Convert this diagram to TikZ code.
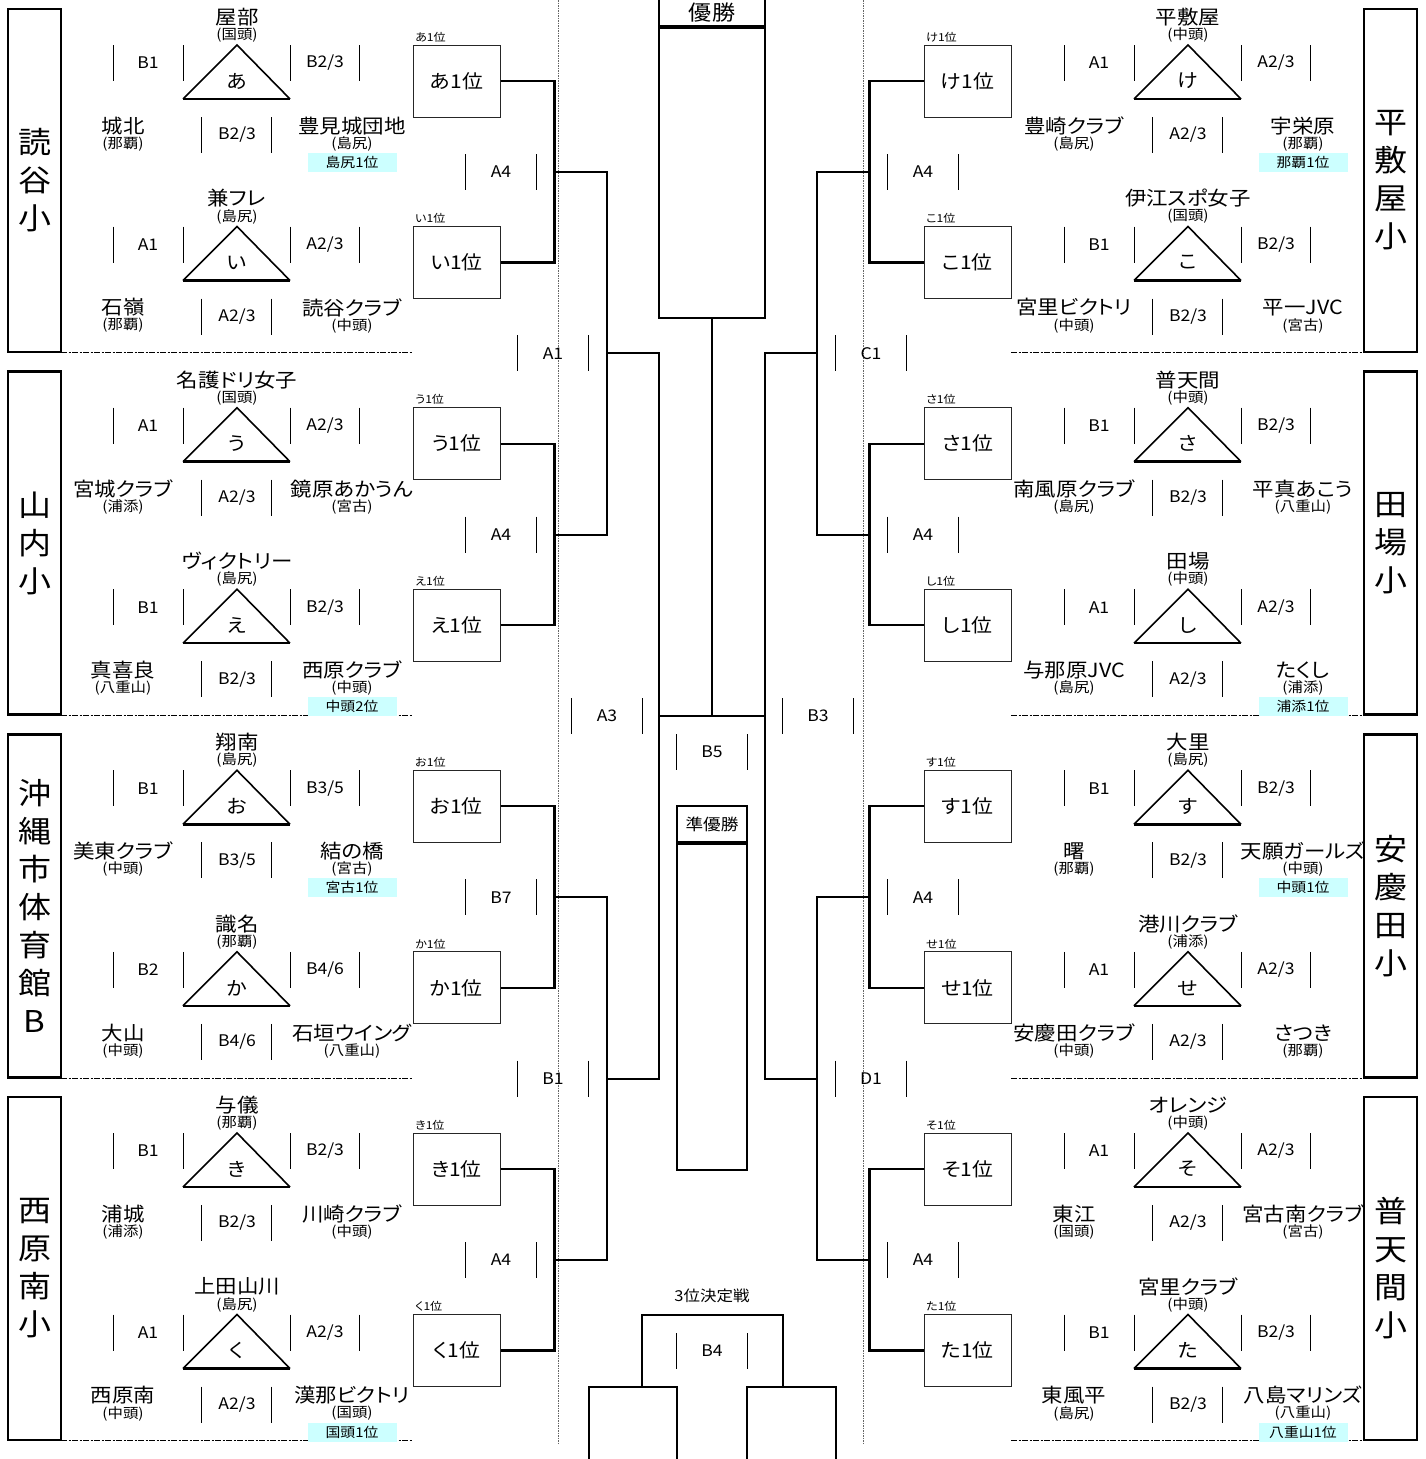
\documentclass[tikz,border=0pt]{standalone}
\usepackage{fontspec}
\setmainfont{Noto Sans CJK JP}[FakeStretch=1.1,RawFeature=+palt]
\definecolor{hlc}{RGB}{204,255,255}
\tikzset{
  nm/.style={inner sep=0pt,font=\fontsize{19.5}{20}\selectfont},
  sb/.style={inner sep=0pt,font=\fontsize{14}{14}\selectfont},
  lb/.style={inner sep=0pt,font=\fontsize{16}{16}\selectfont},
  hr/.style={inner sep=0pt,font=\fontsize{19}{19}\selectfont},
  sm/.style={inner sep=0pt,font=\fontsize{11}{11}\selectfont,anchor=west},
  bx/.style={draw=black!85,line width=1pt,minimum width=87pt,minimum height=72pt,inner sep=0pt,font=\fontsize{19}{19}\selectfont},
  hl/.style={fill=hlc,minimum width=89pt,minimum height=19pt,inner sep=0pt,font=\fontsize{13.5}{14}\selectfont},
  tk/.style={line width=0.8pt},
  tri/.style={line width=1.6pt},
  tribase/.style={line width=2.6pt},
  br/.style={line width=2.2pt},
  venue/.style={draw,line width=2.5pt,minimum width=53pt,minimum height=343pt,inner sep=0pt,align=center,font=\fontsize{30}{38}\selectfont},
  sep/.style={line width=0.7pt,dash pattern=on 6pt off 1.5pt on 2pt off 1.5pt},
  dv/.style={line width=0.6pt,black!60,dash pattern=on 1.5pt off 1pt},
  cb/.style={draw,line width=2.2pt,inner sep=0pt},
}
\newcommand\G[8]{%
  \node[nm] (#1n) at (#2,#3+17) {#4};
  \node[sb] (#1s) at (#2,#3+35) {(#5)};
  \draw[tri] (#2-54,#3+99) -- (#2,#3+45) -- (#2+53,#3+99);
  \draw[tribase] (#2-54,#3+99) -- (#2+53,#3+99);
  \node[hr] (#1h) at (#2,#3+81) {#6};
  \foreach \dx in {-124,-54,53,122}{\draw[tk] (#2+\dx,#3+45) -- (#2+\dx,#3+81);}
  \node[lb] (#1l) at (#2-89,#3+63) {#7};
  \node[lb] (#1r) at (#2+88,#3+63) {#8};
}
\newcommand\GR[8]{%
  \node[nm] (#1a) at (#2-114,#3+126) {#4};
  \node[sb] (#1b) at (#2-114,#3+144) {(#5)};
  \draw[tk] (#2-36,#3+117) -- (#2-36,#3+153);
  \draw[tk] (#2+34,#3+117) -- (#2+34,#3+153);
  \node[lb] (#1m) at (#2,#3+135) {#6};
  \node[nm] (#1c) at (#2+115,#3+126) {#7};
  \node[sb] (#1d) at (#2+115,#3+144) {(#8)};
}
\newcommand\HL[4]{\node[hl] (#1) at (#2+115,#3+162.5) {#4};}
\newcommand\RB[4]{%
  \node[bx] (#1) at (#2,#3+81) {#41位};
  \node[sm] (#1t) at (#2-41.5,#3+37) {#41位};
}
\newcommand\JL[4]{%
  \draw[tk] (#2-36,#3-18) -- (#2-36,#3+18);
  \draw[tk] (#2+35,#3-18) -- (#2+35,#3+18);
  \node[lb] (#1) at (#2,#3) {#4};
}
\begin{document}
\begin{tikzpicture}[x=1pt,y=-1pt]
\useasboundingbox (0,0) rectangle (1426,1459);
\clip (0,0) rectangle (1426,1459);
% dotted verticals
\draw[dv] (558,0) -- (558,1443);
\draw[dv] (863,0) -- (863,1443);
% venue boxes
\node[venue] (v1) at (34.5,180.5) {読\\谷\\小};
\node[venue] (v2) at (34.5,543.2) {山\\内\\小};
\node[venue] (v3) at (34.5,905.8) {沖\\縄\\市\\体\\育\\館\\B};
\node[venue] (v4) at (34.5,1268.5) {西\\原\\南\\小};
\node[venue] (v5) at (1390.5,180.5) {平\\敷\\屋\\小};
\node[venue] (v6) at (1390.5,543.2) {田\\場\\小};
\node[venue] (v7) at (1390.5,905.8) {安\\慶\\田\\小};
\node[venue] (v8) at (1390.5,1268.5) {普\\天\\間\\小};
% separators
\foreach \s in {352.7,715.3,1078,1440.7}{
  \draw[sep] (61,\s) -- (413,\s);
  \draw[sep] (1011,\s) -- (1364,\s);
}
% ---------- left groups
\G{g1}{237}{0}{屋部}{国頭}{あ}{B1}{B2/3}
\GR{g1}{237}{0}{城北}{那覇}{B2/3}{豊見城団地}{島尻}
\HL{h1}{237}{0}{島尻1位}
\RB{b1}{456.5}{0}{あ}
\G{g2}{237}{181.5}{兼フレ}{島尻}{い}{A1}{A2/3}
\GR{g2}{237}{181.5}{石嶺}{那覇}{A2/3}{読谷クラブ}{中頭}
\RB{b2}{456.5}{181.5}{い}
\G{g3}{237}{362.67}{名護ドリ女子}{国頭}{う}{A1}{A2/3}
\GR{g3}{237}{362.67}{宮城クラブ}{浦添}{A2/3}{鏡原あかうん}{宮古}
\RB{b3}{456.5}{362.67}{う}
\G{g4}{237}{544.17}{ヴィクトリー}{島尻}{え}{B1}{B2/3}
\GR{g4}{237}{544.17}{真喜良}{八重山}{B2/3}{西原クラブ}{中頭}
\HL{h4}{237}{544.17}{中頭2位}
\RB{b4}{456.5}{544.17}{え}
\G{g5}{237}{725.33}{翔南}{島尻}{お}{B1}{B3/5}
\GR{g5}{237}{725.33}{美東クラブ}{中頭}{B3/5}{結の橋}{宮古}
\HL{h5}{237}{725.33}{宮古1位}
\RB{b5}{456.5}{725.33}{お}
\G{g6}{237}{906.83}{識名}{那覇}{か}{B2}{B4/6}
\GR{g6}{237}{906.83}{大山}{中頭}{B4/6}{石垣ウイング}{八重山}
\RB{b6}{456.5}{906.83}{か}
\G{g7}{237}{1088}{与儀}{那覇}{き}{B1}{B2/3}
\GR{g7}{237}{1088}{浦城}{浦添}{B2/3}{川崎クラブ}{中頭}
\RB{b7}{456.5}{1088}{き}
\G{g8}{237}{1269.5}{上田山川}{島尻}{く}{A1}{A2/3}
\GR{g8}{237}{1269.5}{西原南}{中頭}{A2/3}{漢那ビクトリ}{国頭}
\HL{h8}{237}{1269.5}{国頭1位}
\RB{b8}{456.5}{1269.5}{く}
% ---------- right groups
\G{g9}{1188}{0}{平敷屋}{中頭}{け}{A1}{A2/3}
\GR{g9}{1188}{0}{豊崎クラブ}{島尻}{A2/3}{宇栄原}{那覇}
\HL{h9}{1188}{0}{那覇1位}
\RB{b9}{967.5}{0}{け}
\G{g10}{1188}{181.5}{伊江スポ女子}{国頭}{こ}{B1}{B2/3}
\GR{g10}{1188}{181.5}{宮里ビクトリ}{中頭}{B2/3}{平一JVC}{宮古}
\RB{b10}{967.5}{181.5}{こ}
\G{g11}{1188}{362.67}{普天間}{中頭}{さ}{B1}{B2/3}
\GR{g11}{1188}{362.67}{南風原クラブ}{島尻}{B2/3}{平真あこう}{八重山}
\RB{b11}{967.5}{362.67}{さ}
\G{g12}{1188}{544.17}{田場}{中頭}{し}{A1}{A2/3}
\GR{g12}{1188}{544.17}{与那原JVC}{島尻}{A2/3}{たくし}{浦添}
\HL{h12}{1188}{544.17}{浦添1位}
\RB{b12}{967.5}{544.17}{し}
\G{g13}{1188}{725.33}{大里}{島尻}{す}{B1}{B2/3}
\GR{g13}{1188}{725.33}{曙}{那覇}{B2/3}{天願ガールズ}{中頭}
\HL{h13}{1188}{725.33}{中頭1位}
\RB{b13}{967.5}{725.33}{す}
\G{g14}{1188}{906.83}{港川クラブ}{浦添}{せ}{A1}{A2/3}
\GR{g14}{1188}{906.83}{安慶田クラブ}{中頭}{A2/3}{さつき}{那覇}
\RB{b14}{967.5}{906.83}{せ}
\G{g15}{1188}{1088}{オレンジ}{中頭}{そ}{A1}{A2/3}
\GR{g15}{1188}{1088}{東江}{国頭}{A2/3}{宮古南クラブ}{宮古}
\RB{b15}{967.5}{1088}{そ}
\G{g16}{1188}{1269.5}{宮里クラブ}{中頭}{た}{B1}{B2/3}
\GR{g16}{1188}{1269.5}{東風平}{島尻}{B2/3}{八島マリンズ}{八重山}
\HL{h16}{1188}{1269.5}{八重山1位}
\RB{b16}{967.5}{1269.5}{た}
% ---------- brackets, left
\draw[br] (b1.east) -- ++(54,0) |- (b2.east);
\draw[br] (b3.east) -- ++(54,0) |- (b4.east);
\draw[br] (b5.east) -- ++(54,0) |- (b6.east);
\draw[br] (b7.east) -- ++(54,0) |- (b8.east);
\coordinate (jL1) at (554,172);
\coordinate (jL2) at (554,534.67);
\coordinate (jL3) at (554,897.33);
\coordinate (jL4) at (554,1260);
\coordinate (sL1) at (607,353.33);
\coordinate (sL2) at (607,1078.67);
\coordinate (cL) at (659,716);
\draw[br] (jL1) -| (sL1) |- (jL2);
\draw[br] (jL3) -| (sL2) |- (jL4);
\draw[br] (sL1) -| (cL) |- (sL2);
% ---------- brackets, right
\draw[br] (b9.west) -- ++(-54,0) |- (b10.west);
\draw[br] (b11.west) -- ++(-54,0) |- (b12.west);
\draw[br] (b13.west) -- ++(-54,0) |- (b14.west);
\draw[br] (b15.west) -- ++(-54,0) |- (b16.west);
\coordinate (jR1) at (870,172);
\coordinate (jR2) at (870,534.67);
\coordinate (jR3) at (870,897.33);
\coordinate (jR4) at (870,1260);
\coordinate (sR1) at (817,353.33);
\coordinate (sR2) at (817,1078.67);
\coordinate (cR) at (765,716);
\draw[br] (jR1) -| (sR1) |- (jR2);
\draw[br] (jR3) -| (sR2) |- (jR4);
\draw[br] (sR1) -| (cR) |- (sR2);
% ---------- centre
\node[cb,minimum width=106pt,minimum height=40pt,anchor=south] (winh) at (712,27) {};
\node[inner sep=0pt,font=\fontsize{21}{21}\selectfont] (wint) at (712,12.5) {優勝};
\node[cb,minimum width=106pt,minimum height=290pt,anchor=north] (win) at (winh.south) {};
\coordinate (cM) at (712,716);
\draw[br] (cL) -- (cR);
\draw[br] (win.south) -- (cM);
\node[cb,line width=2pt,minimum width=70pt,minimum height=36pt,anchor=south,font=\fontsize{16}{16}\selectfont] (runh) at (712,843) {準優勝};
\node[cb,line width=2pt,minimum width=70pt,minimum height=326pt,anchor=north] (run) at (runh.south) {};
\node[inner sep=0pt,font=\fontsize{15}{15}\selectfont] (third) at (712,1296) {3位決定戦};
\coordinate (tL) at (642,1387);
\coordinate (tR) at (783,1387);
\coordinate (tM) at (712,1315);
\draw[br] (tL) |- (tM) -| (tR);
\coordinate (qL) at (589,1475);
\coordinate (qR) at (836,1475);
\draw[br] (qL) |- (677,1387) -- (677,1475);
\draw[br] (qR) |- (747,1387) -- (747,1475);
% ---------- match labels
\JL{j1}{501}{172}{A4}
\JL{j2}{501}{534.67}{A4}
\JL{j3}{501}{897.33}{B7}
\JL{j4}{501}{1260}{A4}
\JL{j5}{923}{172}{A4}
\JL{j6}{923}{534.67}{A4}
\JL{j7}{923}{897.33}{A4}
\JL{j8}{923}{1260}{A4}
\JL{s1}{553}{353.33}{A1}
\JL{s2}{553}{1078.67}{B1}
\JL{s3}{871}{353.33}{C1}
\JL{s4}{871}{1078.67}{D1}
\JL{f1}{607}{716}{A3}
\JL{f2}{818}{716}{B3}
\JL{f3}{712}{752}{B5}
\JL{f4}{712}{1351}{B4}
\end{tikzpicture}
\end{document}
